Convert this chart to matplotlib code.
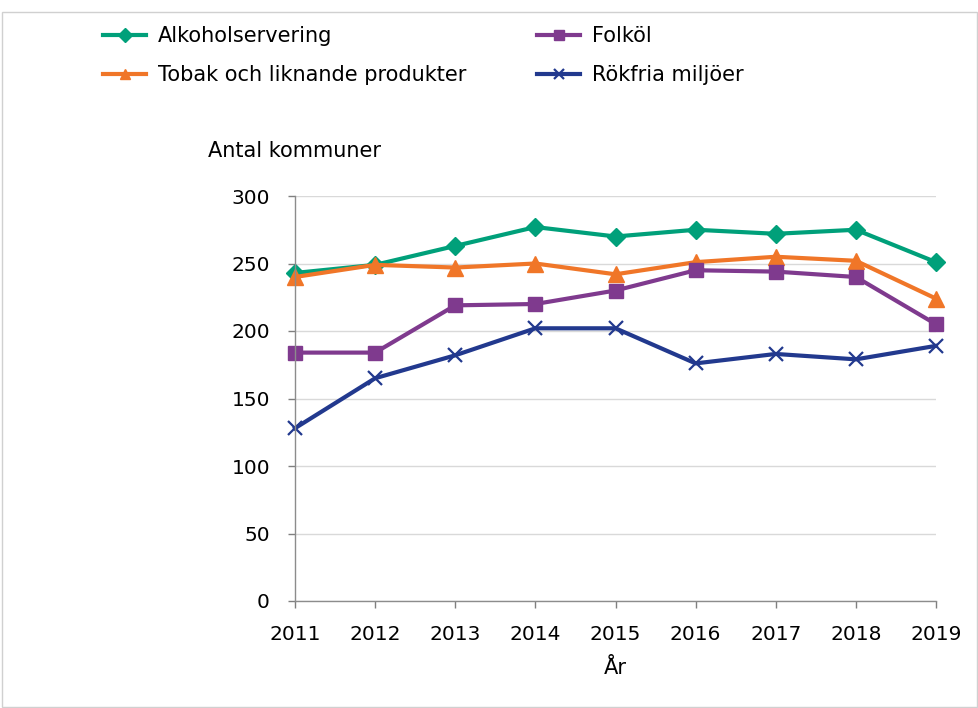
import matplotlib
matplotlib.use("Agg")
import matplotlib.pyplot as plt
from matplotlib.patches import Rectangle

years = [2011, 2012, 2013, 2014, 2015, 2016, 2017, 2018, 2019]
alkohol = [243, 249, 263, 277, 270, 275, 272, 275, 251]
tobak = [240, 249, 247, 250, 242, 251, 255, 252, 224]
folkol = [184, 184, 219, 220, 230, 245, 244, 240, 205]
rokfria = [128, 165, 182, 202, 202, 176, 183, 179, 189]

labels = ["Alkoholservering", "Tobak och liknande produkter", "Folköl", "Rökfria miljöer"]
yticks = [0, 50, 100, 150, 200, 250, 300]

plt.rcParams['font.family'] = ['DejaVu Sans']
fs = 15

fig = plt.figure(figsize=(9.79, 7.08), dpi=100)
ax = fig.add_axes([295/979, 1-601/708, (936-295)/979, (601-196)/708])

series = [
    (alkohol, "#00A07A", "D", 9.5, labels[0]),
    (tobak, "#F07628", "^", 11, labels[1]),
    (folkol, "#7F3A8E", "s", 10, labels[2]),
    (rokfria, "#22398E", "x", 10, labels[3]),
]
handles = []
for vals, col, mk, ms, lab in series:
    h, = ax.plot(years, vals, color=col, lw=3, marker=mk, markersize=ms,
                 markeredgewidth=1.6 if mk == "x" else 1, label=lab, clip_on=False)
    handles.append(h)

ax.set_xlim(2011, 2019)
ax.set_ylim(0, 300)
ax.set_xticks(years)
ax.set_yticks(yticks)
ax.tick_params(labelsize=14.5, colors="#7f7f7f", labelcolor="black", length=5, width=1)
ax.tick_params(axis='x', pad=12)
ax.tick_params(axis='y', pad=13)
ax.grid(axis='y', color="#d9d9d9", lw=1)
ax.set_axisbelow(True)
for s in ["top", "right"]:
    ax.spines[s].set_visible(False)
for s in ["left", "bottom"]:
    ax.spines[s].set_color("#8c8c8c")
    ax.spines[s].set_linewidth(1)

fig.text(208/979, 1-151/708, "Antal kommuner", fontsize=fs, va="center", ha="left")
fig.text(615/979, 1-668/708, "År", fontsize=fs, va="center", ha="center")

fig.legend(handles=handles, labels=labels, loc="upper left",
           bbox_to_anchor=(103/979, 1-26/708), ncol=2, frameon=False, borderpad=0,
           borderaxespad=0,
           fontsize=fs, handlelength=2.07, handletextpad=0.55,
           columnspacing=3.42, labelspacing=0.92, markerscale=0.7)

fig.patches.append(Rectangle((0.002, 0.002), 0.996, 1-12/708-0.002, transform=fig.transFigure,
                             fill=False, edgecolor="#d0d0d0", lw=1))

fig.savefig("out.png", dpi=100)
